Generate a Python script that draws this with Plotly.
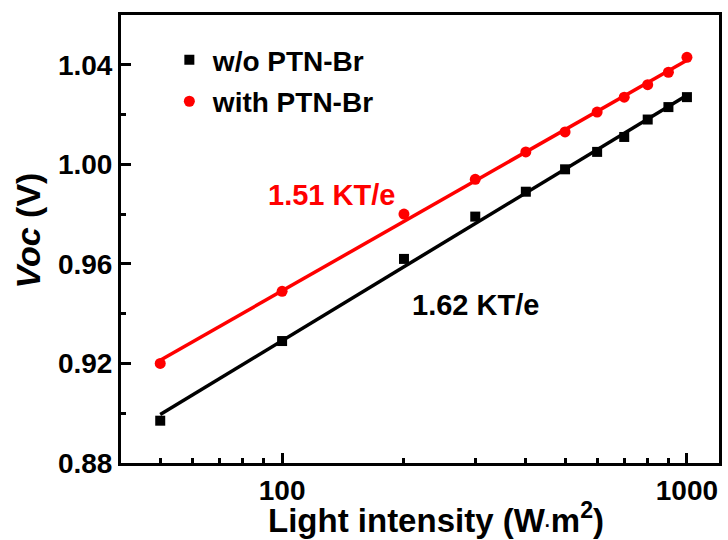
import numpy as np
import plotly.graph_objects as go

intensity = [50, 100, 200, 300, 400, 500, 600, 700, 800, 900, 1000]
voc_without = [0.897, 0.929, 0.962, 0.979, 0.989, 0.998, 1.005, 1.011, 1.018, 1.023, 1.027]
voc_with = [0.920, 0.949, 0.980, 0.994, 1.005, 1.013, 1.021, 1.027, 1.032, 1.037, 1.043]
series_names = ["w/o PTN-Br", "with PTN-Br"]
series_colors = ["#000000", "#ff0000"]
series_symbols = ["square", "circle"]
slope_labels = ["1.62 KT/e", "1.51 KT/e"]
x_major = [100, 1000]
x_minor = [50, 60, 70, 80, 90, 200, 300, 400, 500, 600, 700, 800, 900]
x_title = "Light intensity (W<span style='font-size:18px'>·</span>m<sup>2</sup>)"
y_title = "<i>Voc</i> (V)"

FONT = "Liberation Sans"
fig = go.Figure()

for ys, name, col, sym, gi in zip([voc_without, voc_with], series_names,
                                  series_colors, series_symbols, [1, 2]):
    lx = np.log10(intensity)
    k, b = np.polyfit(lx, ys, 1)
    xfit = np.array([intensity[0], intensity[-1]])
    yfit = k * np.log10(xfit) + b
    fig.add_trace(go.Scatter(x=xfit, y=yfit, mode="lines",
                             line=dict(color=col, width=3.5),
                             showlegend=False, hoverinfo="skip"))
    fig.add_trace(go.Scatter(x=intensity, y=ys, mode="markers", name=name,
                             legendgroup=f"g{gi}",
                             marker=dict(symbol=sym, color=col, size=10 if sym == "square" else 11)))

PW, PH, PL, PB = 601, 448, 121, 463
fig.add_annotation(xref="paper", yref="paper", x=(333 - PL) / PW, y=(PB - 195) / PH,
                   text=slope_labels[1], showarrow=False,
                   font=dict(family=FONT, size=29, color="#ff0000", weight="bold"))
fig.add_annotation(xref="paper", yref="paper", x=(477 - PL) / PW, y=(PB - 305) / PH,
                   text=slope_labels[0], showarrow=False,
                   font=dict(family=FONT, size=29, color="#000000", weight="bold"))
# axis titles (placed as annotations to match reference positions)
fig.add_annotation(xref="paper", yref="paper", x=(438 - PL) / PW, y=(PB - 518) / PH,
                   xanchor="center", yanchor="middle", text=x_title, showarrow=False,
                   font=dict(family=FONT, size=33, color="black", weight="bold"))
fig.add_annotation(xref="paper", yref="paper", x=(28 - PL) / PW, y=(PB - 230) / PH,
                   xanchor="center", yanchor="middle", text=y_title, showarrow=False,
                   textangle=-90,
                   font=dict(family=FONT, size=34, color="black", weight="bold"))

axis_common = dict(showline=True, linecolor="black", linewidth=3, mirror=True,
                   ticks="inside", ticklen=10, tickwidth=3, tickcolor="black",
                   showgrid=False, zeroline=False,
                   tickfont=dict(family=FONT, size=28, color="black", weight="bold"))

fig.update_xaxes(type="log", range=[np.log10(40), np.log10(1200)],
                 tickvals=x_major, ticktext=[str(v) for v in x_major],
                 minor=dict(tickvals=x_minor, ticks="inside", ticklen=5, tickwidth=3,
                            tickcolor="black", showgrid=False),
                 **axis_common)
fig.update_yaxes(range=[0.88, 1.06], tick0=0.88, dtick=0.04, tickformat=".2f",
                 minor=dict(dtick=0.02, ticks="inside", ticklen=5, tickwidth=3,
                            tickcolor="black", showgrid=False),
                 **axis_common)

fig.update_layout(width=728, height=540, margin=dict(l=121, r=6, t=15, b=77),
                  plot_bgcolor="white", paper_bgcolor="white",
                  legend=dict(x=0.075, y=0.955, xanchor="left", yanchor="top",
                              bgcolor="rgba(0,0,0,0)", tracegroupgap=2, itemwidth=37,
                              font=dict(family=FONT, size=28, color="black", weight="bold")))

fig.write_html("out.html")
